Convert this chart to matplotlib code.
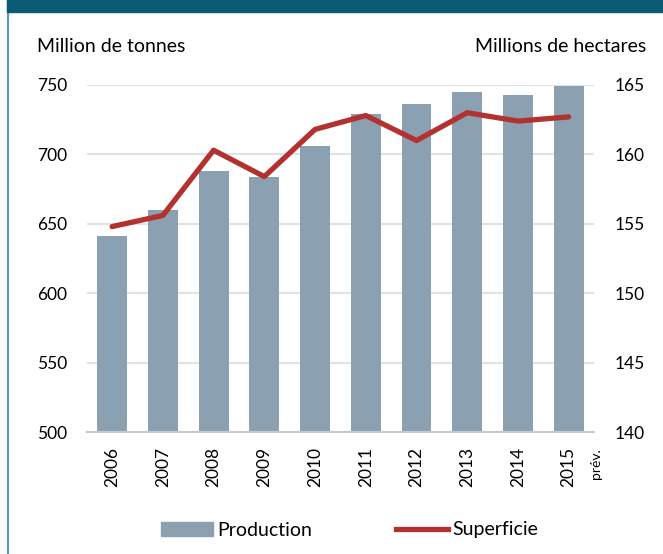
import matplotlib
matplotlib.use('Agg')
import matplotlib.pyplot as plt
import matplotlib.transforms as mtransforms
from matplotlib.patches import Rectangle
from matplotlib.lines import Line2D
import numpy as np

plt.rcParams['font.family'] = ['Lato', 'DejaVu Sans']

# data
years = ['2006', '2007', '2008', '2009', '2010', '2011', '2012', '2013', '2014', '2015']
production = [641, 660, 688, 684, 706, 729, 736, 745, 743, 749]   # million tonnes
superficie = [154.8, 155.6, 160.3, 158.4, 161.8, 162.8, 161.0, 163.0, 162.4, 162.7]  # million ha

bar_col = '#8ba1b1'
line_col = '#b3312f'
grid_col = '#dde3ea'
fs = 12.5

fig = plt.figure(figsize=(6.63, 5.54), dpi=100)
ax = fig.add_axes([0.1308, 0.2202, 0.896 - 0.1308, 0.8466 - 0.2202])
x = np.arange(len(years))

ax.bar(x, production, width=0.59, color=bar_col, zorder=2)
ax.set_ylim(500, 750)
ax.set_yticks([500, 550, 600, 650, 700, 750])
ax.set_xlim(-0.5, len(years) - 0.5)
ax.set_xticks(x)
ax.set_xticklabels(years, rotation=90)
ax.yaxis.grid(True, color=grid_col, lw=1.5, zorder=0)
ax.set_axisbelow(True)
for s in ['top', 'left', 'right']:
    ax.spines[s].set_visible(False)
ax.spines['bottom'].set_color('#c3c9cf')
ax.spines['bottom'].set_linewidth(1.5)
ax.tick_params(axis='y', length=0, pad=14, labelsize=fs)
ax.tick_params(axis='x', length=0, pad=11, labelsize=fs)

ax2 = ax.twinx()
ax2.plot(x, superficie, color=line_col, lw=3.8, solid_capstyle='round', zorder=3)
ax2.set_ylim(140, 165)
ax2.set_yticks([140, 145, 150, 155, 160, 165])
for s in ax2.spines.values():
    s.set_visible(False)
ax2.tick_params(axis='y', length=0, pad=15, labelsize=fs)

# "prév." under the 2015 label
trans = mtransforms.blended_transform_factory(ax.transData, ax.transAxes)
ax.text(9.53, -0.048, 'prév.', transform=trans, rotation=90, ha='center', va='top', fontsize=10)

fig.text(37 / 663, 1 - 47 / 554, 'Million de tonnes', ha='left', va='center', fontsize=14)
fig.text(646 / 663, 1 - 47 / 554, 'Millions de hectares', ha='right', va='center', fontsize=14)

# frame decorations
fig.patches.append(Rectangle((7 / 663, 1 - 12 / 554), 1, 12 / 554, transform=fig.transFigure,
                             color='#0b5a73', zorder=5))
fig.lines.append(Line2D([7.5 / 663, 7.5 / 663], [0, 1], transform=fig.transFigure,
                        color='#5e9bb0', lw=1.6))

handles = [Rectangle((0, 0), 1, 1, color=bar_col), Line2D([0], [0], color=line_col, lw=3.8)]
fig.legend(handles, ['Production', 'Superficie'], loc='center', bbox_to_anchor=(0.527, 1 - 530 / 554),
           ncol=2, frameon=False, fontsize=14, handlelength=2.7, handletextpad=0.2, columnspacing=4.3)

fig.savefig('out.png', dpi=100)
